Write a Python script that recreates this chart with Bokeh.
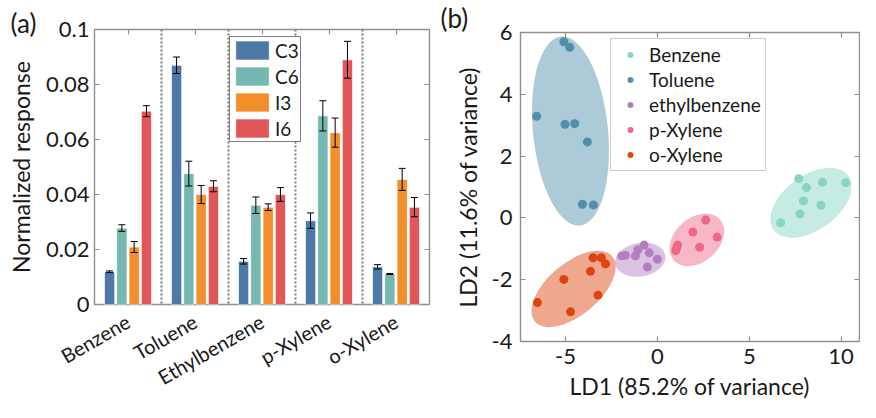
import math
from bokeh.plotting import figure
from bokeh.models import (ColumnDataSource, FactorRange, Range1d, Whisker, TeeHead, Span,
                          Legend, LegendItem, FixedTicker, LinearAxis, CategoricalAxis, Title)
from bokeh.transform import dodge
from bokeh.layouts import row
from bokeh.embed import file_html
from bokeh.resources import INLINE

# ---------------- data: panel (a) ----------------
analytes = ["Benzene", "Toluene", "Ethylbenzene", "p-Xylene", "o-Xylene"]
sensors = ["C3", "C6", "I3", "I6"]
c3 = [0.0119, 0.0870, 0.0157, 0.0305, 0.0137]
c3_err = [0.0003, 0.0030, 0.0010, 0.0028, 0.0008]
c6 = [0.0278, 0.0476, 0.0361, 0.0686, 0.0111]
c6_err = [0.0012, 0.0045, 0.0030, 0.0055, 0.0002]
i3 = [0.0209, 0.0400, 0.0354, 0.0625, 0.0455]
i3_err = [0.0020, 0.0033, 0.0012, 0.0053, 0.0040]
i6 = [0.0703, 0.0430, 0.0400, 0.0890, 0.0354]
i6_err = [0.0020, 0.0020, 0.0025, 0.0067, 0.0035]
y_ticks_a = [0, 0.02, 0.04, 0.06, 0.08, 0.1]
y_tick_labels_a = ["0", "0.02", "0.04", "0.06", "0.08", "0.1"]

# ---------------- data: panel (b) ----------------
classes = ["Benzene", "Toluene", "ethylbenzene", "p-Xylene", "o-Xylene"]
benzene_ld1 = [7.69, 8.11, 8.99, 10.25, 7.95, 8.90, 7.76, 6.71]
benzene_ld2 = [1.27, 0.98, 1.15, 1.14, 0.55, 0.41, 0.13, -0.16]
toluene_ld1 = [-5.09, -4.77, -6.57, -5.03, -4.50, -3.81, -4.08, -3.48]
toluene_ld2 = [5.70, 5.52, 3.29, 3.03, 3.05, 2.46, 0.44, 0.42]
ethyl_ld1 = [-1.94, -1.74, -1.20, -1.06, -0.72, -0.44, 0.00, -0.54]
ethyl_ld2 = [-1.23, -1.21, -1.23, -1.03, -0.88, -1.13, -1.34, -1.59]
pxylene_ld1 = [2.63, 1.93, 3.25, 2.30, 1.10, 1.00, 1.05]
pxylene_ld2 = [-0.07, -0.46, -0.62, -0.95, -0.88, -1.06, -0.97]
oxylene_ld1 = [-3.50, -3.05, -2.82, -3.64, -5.09, -6.53, -3.23, -4.73]
oxylene_ld2 = [-1.29, -1.29, -1.49, -1.73, -1.99, -2.74, -2.50, -3.04]
# confidence ellipses (centre, axis lengths in data units, rotation in rad)
ell_x = [8.36, -4.73, -0.93, 2.15, -4.56]
ell_y = [0.49, 2.81, -1.35, -0.71, -2.30]
ell_w = [5.03, 4.08, 2.76, 3.36, 5.51]
ell_h = [1.77, 6.15, 1.09, 1.43, 1.68]
ell_angle = [0.63, 0.10, 0.17, 0.73, 0.70]
x_ticks_b = [-5, 0, 5, 10]
x_tick_labels_b = ["-5", "0", "5", "10"]
y_ticks_b = [-4, -2, 0, 2, 4, 6]
y_tick_labels_b = ["-4", "-2", "0", "2", "4", "6"]

# ---------------- style ----------------
FONT = "Lato"
TXT = "#1a1a1a"
GRAY = "#8f8f8f"
bar_colors = ["#4E79A7", "#76B7B2", "#F28E2B", "#E15759"]
bar_offsets = [-0.275, -0.092, 0.092, 0.275]
pt_colors = ["#86d4c4", "#4f8fac", "#b57ec2", "#ef6786", "#dc4512"]


def style_axis(ax, labels=True, size="22px"):
    ax.axis_line_color = None
    ax.major_tick_in = 5
    ax.major_tick_out = 0
    ax.minor_tick_in = 0
    ax.minor_tick_out = 0
    ax.major_tick_line_color = GRAY
    ax.major_tick_line_width = 1.2
    ax.major_label_text_font = FONT
    ax.major_label_text_color = TXT
    ax.axis_label_text_font = FONT
    ax.axis_label_text_color = TXT
    ax.axis_label_text_font_style = "normal"
    ax.axis_label_text_font_size = "23px"
    if labels:
        ax.major_label_text_font_size = size
    else:
        ax.major_label_text_font_size = "0px"
        ax.major_label_text_color = None
        ax.major_label_text_alpha = 0
        ax.major_label_standoff = 0


def panel_title(p, text, offset, standoff):
    p.add_layout(Title(text=text, align="left", offset=offset, standoff=standoff,
                       vertical_align="bottom", text_font=FONT, text_font_size="26px",
                       text_font_style="normal", text_color=TXT), "above")


# ================= panel (a) =================
pa = figure(x_range=FactorRange(factors=analytes), y_range=Range1d(0, 0.1),
            width=440, height=402, output_backend="svg", toolbar_location=None,
            frame_align=False,
            min_border_left=94, min_border_right=11, min_border_top=29, min_border_bottom=91)
pa.xgrid.visible = False
pa.ygrid.visible = False
pa.outline_line_color = GRAY
pa.outline_line_width = 1.4

pa.yaxis.ticker = FixedTicker(ticks=y_ticks_a)
pa.yaxis.major_label_overrides = {t: l for t, l in zip(y_ticks_a, y_tick_labels_a)}
pa.yaxis.axis_label = "Normalized response"
for ax in pa.yaxis:
    style_axis(ax)
    ax.major_label_standoff = 5
    ax.axis_label_standoff = 8
for ax in pa.xaxis:
    style_axis(ax, size="20px")
    ax.major_tick_in = 0
    ax.major_label_orientation = math.pi / 6
    ax.major_label_standoff = 15

top_a = CategoricalAxis()
style_axis(top_a, labels=False)
pa.add_layout(top_a, "above")
right_a = LinearAxis(ticker=FixedTicker(ticks=y_ticks_a))
style_axis(right_a, labels=False)
pa.add_layout(right_a, "right")

for b in range(1, len(analytes)):
    pa.add_layout(Span(location=b, dimension="height", line_color="#7a7a7a",
                       line_dash="2 2", line_width=2))

data = dict(analyte=analytes)
for name, vals, errs in zip(sensors, [c3, c6, i3, i6], [c3_err, c6_err, i3_err, i6_err]):
    data[name] = vals
    data[name + "_lo"] = [v - e for v, e in zip(vals, errs)]
    data[name + "_hi"] = [v + e for v, e in zip(vals, errs)]
src = ColumnDataSource(data)

items = []
for name, col, off in zip(sensors, bar_colors, bar_offsets):
    r = pa.vbar(x=dodge("analyte", off, range=pa.x_range), top=name, width=0.155,
                source=src, fill_color=col, line_color="white", line_width=0.8)
    items.append(LegendItem(label=name, renderers=[r]))
    w = Whisker(source=src, base=dodge("analyte", off, range=pa.x_range),
                upper=name + "_hi", lower=name + "_lo", line_color="black", line_width=1,
                level="annotation",
                upper_head=TeeHead(size=7, line_color="black", line_width=1),
                lower_head=TeeHead(size=7, line_color="black", line_width=1))
    pa.add_layout(w)

leg_a = Legend(items=items, location=(135, 162), orientation="vertical",
               glyph_width=42, glyph_height=24, label_height=24, spacing=2, padding=1,
               margin=0, label_standoff=2, border_line_color="black", border_line_width=1,
               label_text_font=FONT, label_text_font_size="19px", label_text_color=TXT)
pa.add_layout(leg_a)
panel_title(pa, "(a)", -84, -19)

# ================= panel (b) =================
pb = figure(x_range=Range1d(-7.45, 11.0), y_range=Range1d(-4, 6),
            width=420, height=402, output_backend="svg", toolbar_location=None,
            frame_align=False,
            min_border_left=80, min_border_right=1, min_border_top=32, min_border_bottom=60)
pb.xgrid.visible = False
pb.ygrid.visible = False
pb.outline_line_color = GRAY
pb.outline_line_width = 1.4

pb.xaxis.ticker = FixedTicker(ticks=x_ticks_b)
pb.xaxis.major_label_overrides = {t: l for t, l in zip(x_ticks_b, x_tick_labels_b)}
pb.yaxis.ticker = FixedTicker(ticks=y_ticks_b)
pb.yaxis.major_label_overrides = {t: l for t, l in zip(y_ticks_b, y_tick_labels_b)}
pb.xaxis.axis_label = "LD1 (85.2% of variance)"
pb.yaxis.axis_label = "LD2 (11.6% of variance)"
for ax in pb.xaxis:
    style_axis(ax)
    ax.major_label_standoff = 7
    ax.axis_label_standoff = 5
for ax in pb.yaxis:
    style_axis(ax)
    ax.major_label_standoff = 8
    ax.axis_label_standoff = 7
top_b = LinearAxis(ticker=FixedTicker(ticks=x_ticks_b))
style_axis(top_b, labels=False)
pb.add_layout(top_b, "above")
right_b = LinearAxis(ticker=FixedTicker(ticks=y_ticks_b))
style_axis(right_b, labels=False)
pb.add_layout(right_b, "right")

ell_src = ColumnDataSource(dict(x=ell_x, y=ell_y, w=ell_w, h=ell_h, a=ell_angle, c=pt_colors))
pb.ellipse(x="x", y="y", width="w", height="h", angle="a", source=ell_src,
           fill_color="c", fill_alpha=0.47, line_color=None)

xs = [benzene_ld1, toluene_ld1, ethyl_ld1, pxylene_ld1, oxylene_ld1]
ys = [benzene_ld2, toluene_ld2, ethyl_ld2, pxylene_ld2, oxylene_ld2]
items_b = []
for name, col, xv, yv in zip(classes, pt_colors, xs, ys):
    r = pb.scatter(x=xv, y=yv, size=9, fill_color=col, line_color=None)
    items_b.append(LegendItem(label=name, renderers=[r]))

leg_b = Legend(items=items_b, location=(90, 170), orientation="vertical",
               glyph_width=30, glyph_height=15, label_height=20, spacing=2, padding=4,
               margin=0, label_standoff=4, border_line_color="#9a9a9a", border_line_width=1.2,
               label_text_font=FONT, label_text_font_size="19px", label_text_color=TXT)
pb.add_layout(leg_b)
panel_title(pb, "(b)", -80, -3)

layout = row(pa, pb)
open("out.html", "w").write(file_html(layout, INLINE))
